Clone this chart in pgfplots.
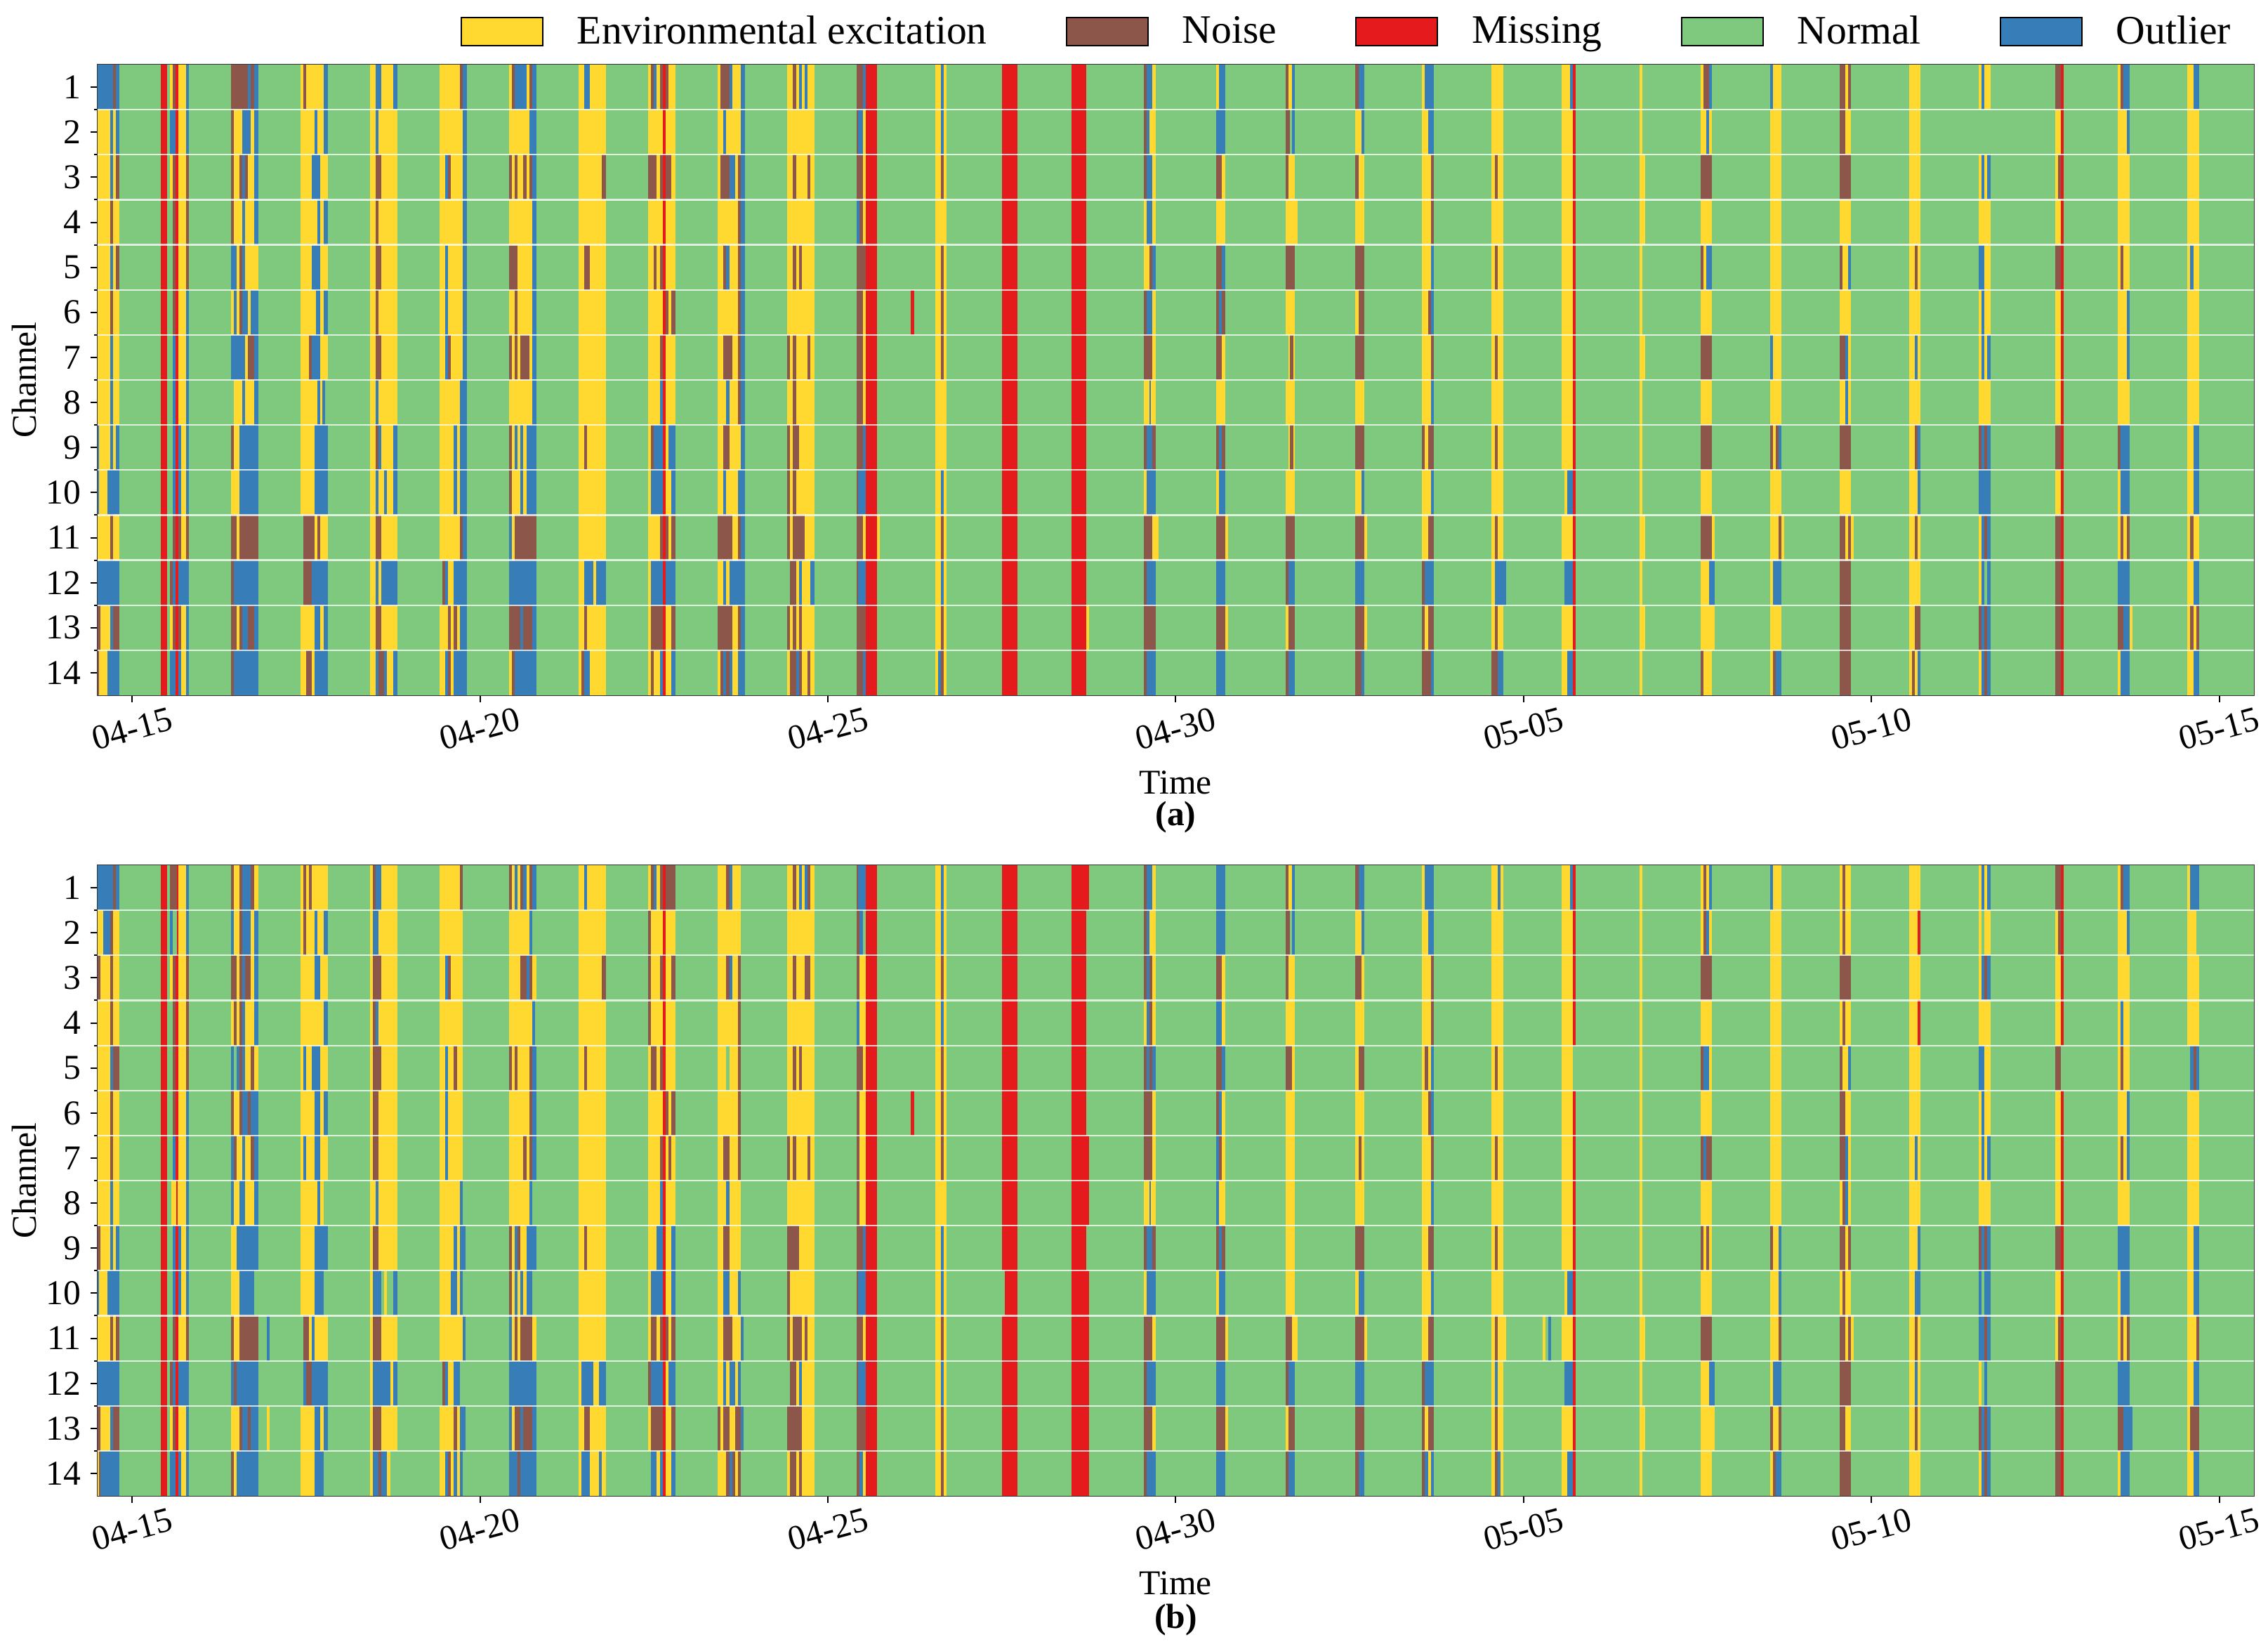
\documentclass[border=0pt]{standalone}
\usepackage{fontspec}
\setmainfont{Liberation Serif}
\usepackage{pgfplots}
\usepackage{pgfplotstable}
\pgfplotsset{compat=1.18}
\definecolor{cy}{HTML}{FFD92F}
\definecolor{cn}{HTML}{8C564B}
\definecolor{cm}{HTML}{E41A1C}
\definecolor{cg}{HTML}{7FC97F}
\definecolor{co}{HTML}{377EB8}
% one hour and one channel, in pt
\def\hu{1.03212pt}
\def\rh{16.036pt}
\pgfdeclareplotmark{seg}{%
  \pgfmathsetlengthmacro\segw{\seglen*\hu}%
  \pgfmathsetlengthmacro\segh{\segn*\rh}%
  \pgfpathrectangle{\pgfpoint{0pt}{0.5*\rh}}{\pgfpoint{\segw}{-\segh}}%
  \pgfusepathqfill}
% s = first hour after 04-14 12:00, c = first channel, l = hours, n = channels, k = class
\pgfplotstableread{
s c l n k
0 1 744 14 g
0 1 7.5 14 y
0 1 5.5 1 o
5.5 1 1 1 n
6.5 1 1 1 o
4.5 2 1 2 o
6.5 2 1 1 o
6.5 3 1 1 n
4.5 4 1 1 n
4.5 5 1 1 o
6.5 5 1 1 n
4.5 6 1 1 n
4.5 7 1 2 o
0 9 0.5 2 o
4.5 9 1 1 o
6.5 9 1 1 o
3.5 10 4 1 o
4.5 11 1 1 n
0 12 7.5 1 o
0 13 1 1 n
4.5 13 1 1 o
5.5 13 2 1 n
0 14 0.5 1 n
3.5 14 4 1 o
22 1 2 14 m
28 1 2.5 14 y
30.5 1 1 14 o
27 1 1 14 m
25 1 1 1 y
26 1 1 1 n
25 2 2 1 o
25 3 1 1 y
26 3 1 3 n
30.5 3 1 3 n
26 6 1 1 n
26 7 1 4 o
28 9 1 2 o
26 11 1 1 n
28 11 1 1 n
30.5 11 1 1 n
25 12 1 1 n
26 12 1 1 o
28 12 3.5 1 o
25 13 1 1 y
26 13 1 1 n
28 13 1 1 n
25 14 2 1 o
28 14 1 1 o
46 1 9.5 14 y
46 1 6 1 n
52 1 1 1 o
53 1 1 1 n
54 1 1.5 1 o
46 2 1 1 n
50 2 3 1 o
54 2 1.5 1 o
46 3 1 1 n
49 3 1 1 n
50 3 1 1 o
51 3 1 1 n
54 3 1.5 2 o
46 4 1 1 n
50 4 1 1 o
46 5 2 1 o
49 5 1 1 n
50 5 1 1 o
47 6 1 1 o
49 6 1 1 n
50 6 2 1 o
53 6 2.5 1 o
46 7 5 1 o
52 7 2 1 n
54 7 1.5 2 o
46 8 1 1 g
50 8 1 1 o
46 9 1 1 n
49 9 6.5 2 o
46 11 2 1 n
49 11 6.5 1 n
46 12 1 1 n
47 12 8.5 1 o
46 13 2 1 n
49 13 1 1 n
50 13 2 1 o
52 13 2 1 n
54 13 1.5 1 o
46 14 1 1 n
47 14 8.5 1 o
70 1 9.5 14 y
71 1 1 1 n
78 1 1.5 2 o
75 2 1 1 o
74 3 3 1 o
76 4 1 1 o
78 4 1.5 1 o
74 5 3 1 o
75.5 6 1.5 1 o
78 6 1.5 1 o
73 7 1 1 n
74 7 3 1 o
76 8 1 1 o
77.5 8 1 1 o
78.5 8 1 1 g
75 9 4.5 2 o
70 11 1 2 g
71 11 4 1 n
76 11 1 1 n
71 12 3 1 n
74 12 5.5 1 o
75 13 2 1 o
78 13 1.5 1 o
72 14 2 1 n
75 14 4.5 1 o
94 1 9.5 14 y
96 1 2 1 o
102 1 1.5 1 o
96 2 1 1 o
96 3 2 1 n
96 4 1 1 n
96 5 2 1 n
96 6 1 1 n
96 7 2 1 n
96 8 1 1 o
96 9 1 1 n
97 9 1 1 o
102 9 1.5 2 o
96 10 1 1 o
99 10 1 1 o
96 11 2 1 n
96 12 1 1 o
98 12 5.5 1 o
96 13 2 1 n
96 14 1 1 o
97 14 2 1 n
99 14 1 1 o
102 14 1.5 1 o
118 1 8 14 y
126 1 1.5 14 o
125 1 1 1 n
120 3 1 1 o
121 3 1 1 n
120 5 1 2 o
120 7 1 1 o
121 7 1 1 n
125 8 1 1 o
123 9 1 2 o
125 9 1 2 o
125 11 1 1 n
118 12 1 1 g
119 12 1 1 n
120 12 1 1 o
123 12 3 1 o
121 13 1 1 n
123 13 1 1 n
125 13 1 1 o
120 14 1 1 o
121 14 1 1 n
123 14 3 1 o
142 1 9.5 14 y
143 1 1 1 n
144 1 4 1 o
149 1 1 1 n
150 1 1.5 1 o
149 2 2.5 1 o
142 3 1 1 n
144 3 1 1 n
147 3 1 1 n
149 3 1 1 n
150 3 1.5 1 o
150 4 1.5 1 o
142 5 3 1 n
150 5 1.5 1 o
144 6 1 1 n
150 6 1.5 1 o
142 7 1 1 n
144 7 1 1 n
146 7 3 1 n
150 7 1.5 2 o
142 9 1 1 n
144 9 1 1 o
146 9 1 1 o
148 9 3.5 1 o
142 10 1 1 n
146 10 1 1 o
148 10 3.5 1 o
142 11 1 1 o
144 11 7.5 1 n
142 12 9.5 1 o
142 13 4 1 n
146 13 1 1 o
147 13 3 1 n
150 13 1.5 1 o
143 14 1 1 n
144 14 7.5 1 o
166 1 9.5 14 y
168 1 2 1 o
174 3 1.5 1 n
168 5 2 1 n
168 9 1 1 n
168 12 3 1 o
172 12 3.5 1 o
168 13 1 1 n
167 14 1 1 n
168 14 2 1 o
190 1 9.5 14 y
191 1 1 1 n
192 1 1 1 o
194 1 1 1 n
196 1 1 1 n
190 3 3 1 n
194 3 4 1 n
192 5 1 1 n
194 5 1 1 n
196 6 1 1 n
198 6 1.5 1 n
194 7 1 1 n
194 8 1 1 o
191 9 1 1 n
192 9 3 1 o
197 9 2.5 1 o
191 10 4 1 o
198 10 1.5 1 o
194 11 1 1 n
196 11 1 1 n
198 11 1.5 1 n
191 12 8.5 1 o
191 13 4 1 n
198 13 1.5 1 n
191 14 1 1 n
194 14 1 1 o
198 14 1.5 1 o
195 1 1 14 m
214 1 9.5 14 y
222 1 1.5 14 o
215 1 3 1 n
218 1 1 1 o
216 2 1 1 o
215 3 3 1 n
218 3 2 1 o
221 3 1 5 n
216 5 1 1 n
217 5 1 1 o
216 7 3 1 n
217 8 1 1 o
216 9 2 1 n
221 9 1 1 y
216 10 1 1 o
221 10 1 1 o
214 11 5 1 n
221 11 1 1 n
216 12 1 1 o
218 12 4 1 o
214 13 5 1 n
221 13 1 1 n
215 14 1 1 n
216 14 1 1 o
217 14 1 1 n
218 14 1 1 o
221 14 1 1 o
221 8 1 1 n
221 6 1 2 n
238 1 9.5 14 y
240 1 1 1 n
242 1 1 1 o
244 1 1 1 o
240 3 1 1 n
245 3 1 1 n
240 5 1 1 n
242 5 1 1 n
238 7 1 1 n
240 7 1 2 n
245 7 1 1 n
238 9 1 1 n
240 9 2 1 n
238 10 1 1 n
240 10 1 1 n
238 11 1 1 n
240 11 4 1 n
238 12 1 1 g
239 12 2 1 n
242 12 1 1 o
246 12 1.5 1 o
238 13 1 1 n
240 13 1 1 n
242 13 1 1 n
239 14 2 1 n
241 14 1 1 o
242 14 1 1 n
245 14 1 1 n
262 1 2 1 n
264 1 1 1 o
262 2 0.5 1 n
262.5 2 1.5 1 o
264 2 1 1 y
262 3 2 1 n
264 3 1 1 y
262 4 1 1 o
263 4 1 1 n
264 4 1 1 y
262 5 3 1 n
262 6 2 3 n
264 6 1 3 y
262 9 2 1 n
264 9 1 1 o
262 10 0.5 1 n
262.5 10 2.5 1 o
262 11 2 1 n
264 11 1 1 y
269 11 1 1 y
262 12 0.5 1 n
262.5 12 2.5 1 o
262 13 3 1 n
262 14 2 1 n
264 14 1 1 o
265 1 4 14 m
280.6 6 1.3 1 m
289 1 4 14 y
291 1 1 2 o
291 3 1 1 n
291 5 1 3 n
291 10 1 1 o
291 11 1 1 n
291 12 1 1 o
291 13 1 1 n
289 14 1 1 y
290 14 1 1 o
291 14 1 1 n
312 1 5.3 14 m
336 1 5.2 14 m
341.2 13 0.8 1 y
361 1 4 14 y
361 1 1 3 n
362 1 2 1 o
362 2 1 1 o
362 3 2 1 o
362 4 2 1 o
363 5 1 1 n
364 5 1 1 o
361 6 1 1 n
362 6 2 1 o
361 7 3 1 n
363 8 0.5 1 o
361 9 1 1 n
362 9 2 1 o
364 9 1 1 n
362 10 3 1 o
361 11 3 1 n
364 11 2 1 y
361 12 1 1 n
362 12 3 1 o
361 13 4 1 n
361 14 1 1 n
362 14 3 1 o
386 1 3 14 y
387 1 2 1 o
386 2 3 1 o
386 3 2 1 n
386 5 2 1 n
388 5 1 1 o
386 6 1 1 n
387 6 1 1 o
388 6 1 1 n
386 7 2 1 n
386 9 1 1 n
387 9 1 1 o
388 9 1 1 n
387 10 2 1 o
386 11 3 1 n
389 11 1 1 y
386 12 3 1 o
386 13 3 1 n
389 13 1 1 y
386 14 3 1 o
410 1 3 14 y
410 1 1 1 n
412 1 1 1 o
410 2 1.5 1 n
411.5 2 0.5 1 g
412 2 1 1 o
410 3 1 1 n
413 4 1 1 y
410 5 3 1 n
411.5 7 1 1 n
410 7 1 1 g
411.5 9 1 1 n
410 9 1 1 g
410 11 3 1 n
410 12 1 1 n
411 12 2 1 o
411 13 2 1 n
410 14 1 1 n
411 14 2 1 o
434 1 3 14 y
434 1 1 1 n
435 1 2 1 o
436 2 1 1 o
434 3 1 1 n
434 5 3 1 n
435 6 2 1 n
434 7 3 1 n
434 9 3 1 n
436 10 1 1 o
434 11 3 1 n
437 11 1 1 y
434 12 3 1 o
434 13 3 1 n
437 13 1 1 y
434 14 2 1 n
436 14 1 1 o
457 1 4 14 y
458 1 3 1 o
459 2 2 1 o
460 3 1 2 n
460 5 1 1 o
459 6 1 1 n
460 6 1 1 o
460 7 1 1 n
460 8 1 1 o
457 9 1 1 n
459 9 2 1 n
460 10 1 1 o
459 11 2 1 n
457 12 1 1 n
458 12 3 1 o
457 13 1 1 n
459 13 2 1 n
457 14 3 1 n
460 14 1 1 o
481 1 4 14 y
482 3 1 1 n
482 5 1 1 n
482 7 1 1 n
482 9 1 1 n
482 11 1 1 n
482 12 4 1 o
482 13 1 1 n
481 14 2 1 n
483 14 2 1 o
505 1 4 14 y
508 1 1 1 o
505 10 2 1 g
506 10 1 1 y
507 10 2 1 o
505 12 1 1 g
506 12 3 1 o
507 14 2 1 o
509 1 1 14 m
532 1 1 14 y
533 3 1 2 y
533 7 1 1 y
533 11 1 1 y
533 13 1 1 y
553 1 4 14 y
554 1 2 1 n
556 1 1 1 o
555 2 1 1 o
553 3 4 1 n
553 5 1 1 n
555 5 2 1 o
553 7 4 1 n
553 9 4 1 n
553 11 4 1 n
557 11 1 2 y
556 12 2 1 o
557 13 1 1 y
553 14 1 1 n
577 1 4 14 y
577 1 1 1 o
577 7 1 1 o
577 9 1 1 n
579 9 1 1 n
580 9 1 1 o
580 11 1 1 n
581 11 1 1 y
578 12 3 1 o
578 14 1 1 n
579 14 2 1 o
601 1 4 14 y
601 1 2 2 n
604 1 1 1 n
601 3 4 1 n
601 5 1 1 n
604 5 1 1 o
601 7 2 1 n
603 7 1 2 o
601 9 4 1 n
601 11 2 1 n
604 11 1 1 n
605 11 1 1 y
601 12 4 3 n
625 1 4 14 y
627 5 1 1 n
627 7 1 1 o
627 9 1 1 n
628 9 1 1 o
628 10 1 1 o
627 11 1 1 n
627 13 2 1 n
626 14 1 1 n
628 14 1 1 o
649 1 4 14 y
650 1 1 1 o
649 2 4 1 g
650 3 1 1 o
652 3 1 1 o
649 5 2 1 o
650 6 1 2 o
652 7 1 1 o
649 9 1 1 n
650 9 1 1 o
651 9 1 1 n
652 9 1 1 o
649 10 4 1 o
650 11 1 1 o
651 11 1 1 n
652 11 1 1 o
650 12 1 1 o
651 12 1 1 g
652 12 1 1 o
649 13 1 1 n
650 13 1 1 o
651 13 1 1 n
652 13 1 1 o
650 14 1 1 o
651 14 1 1 n
652 14 1 1 o
675.4 1 2 14 y
675.4 1 2 1 n
676.4 3 1 1 n
675.4 5 2 1 n
675.4 9 2 1 n
675.4 11 2 4 n
677.4 1 1 14 m
697 1 4 14 y
698 1 1 1 n
699 1 2 1 o
700 2 1 1 o
698 5 1 1 n
700 6 1 2 o
697 9 1 1 n
698 9 3 2 o
698 11 1 1 n
700 11 1 1 n
697 12 4 1 o
697 13 2 1 n
699 13 2 1 o
701 13 1 1 y
698 14 3 1 o
721 1 4 14 y
723 1 2 1 o
722 5 1 1 o
723 9 2 2 o
722 11 1 1 n
723 12 2 1 o
722 13 1 1 n
724 13 1 1 n
723 14 2 1 o
}\dataa
\pgfplotstableread{
s c l n k
0 1 744 14 g
0 1 7.5 14 y
0 1 5.5 1 o
5.5 1 1 1 n
6.5 1 1 1 o
2 2 2.5 1 o
4.5 2 1 1 n
0 3 1 1 n
4.5 3 1 2 n
4.5 5 1 1 o
5.5 5 2 1 n
4.5 6 1 2 n
4.5 8 1 1 o
0 9 1 1 n
4.5 9 1 1 o
6.5 9 1 1 o
0 10 0.5 1 o
3.5 10 4 1 o
4.5 11 1 1 n
6.5 11 1 1 n
0 12 7.5 1 o
0 13 1 1 n
4.5 13 1 1 o
5.5 13 2 1 n
0.5 14 0.5 1 n
1 14 6.5 1 o
22 1 2 14 m
28 1 2.5 14 y
30.5 1 1 14 o
25 1 2.5 1 n
27.5 1 0.5 1 m
25 2 1 1 o
27.5 2 0.5 1 m
25 3 1 1 y
26 3 1 4 n
27 3 1 10 m
30.5 3 1 3 n
26 7 1 1 o
25.5 8 2.5 1 y
27.3 8 0.4 1 m
26 9 1 2 o
28 9 1 2 o
26 11 1 1 n
30.5 11 1 1 n
25 12 1 1 n
26 12 1 1 o
27 12 1 1 m
28 12 3.5 1 o
25 13 1 1 y
26 13 1 1 n
27 13 1 1 m
25 14 2 1 o
27 14 1 1 m
28 14 1 1 o
46 1 9.5 14 y
46 1 1 1 n
49 1 1 1 n
50 1 3 1 o
53 1 1 1 n
46 2 1 1 o
49 2 1 1 n
50 2 3 1 o
54 2 1.5 1 o
46 3 2 1 n
49 3 1 1 n
50 3 1 1 o
51 3 2 1 n
54 3 1.5 1 o
46 4 1 1 y
47 4 1 1 n
49 4 1 1 n
50 4 1 1 o
54 4 1.5 1 o
46 5 1 1 o
47 5 1 1 g
48 5 1 1 o
49 5 1 1 n
50 5 1 1 o
53 5 1 1 n
46 6 1 1 n
49 6 1 1 n
50 6 2 1 o
52 6 1 1 n
53 6 2.5 1 o
46 7 1 1 o
47 7 1 1 n
50 7 1 1 o
53 7 1 1 n
54 7 1.5 2 o
46 8 1 1 o
49 8 2 1 o
48 9 7.5 1 o
49 10 5 1 o
54 10 1.5 1 g
46 11 1 1 n
49 11 6.5 1 n
58.5 11 1 1 o
46 12 1 1 o
47 12 1 1 n
48 12 7.5 1 o
49 13 1 1 n
50 13 2 1 o
52 13 1 1 n
53 13 2.5 1 o
58.5 13 1 1 y
46 14 1 1 n
48 14 7.5 1 o
70 1 9.5 14 y
71 1 1 2 n
73 1 1 1 n
75 2 1 1 o
78 2 1.5 1 o
75 3 2 1 o
78 4 1.5 1 o
71 5 1 1 o
74 5 3 1 o
75 6 2 1 o
78 6 1.5 1 o
71 7 1 1 o
75 7 2 1 o
76 8 1 1 o
78 8 1.5 1 g
75 9 4.5 1 o
75 10 3 1 o
78 10 1.5 1 g
70 11 1 2 g
71 11 2 1 n
74 11 1 1 o
71 12 1 1 o
72 12 2 1 n
74 12 5.5 1 o
75 13 2 1 o
78 13 1.5 1 o
75 14 3 1 o
78 14 1.5 1 g
94 1 9.5 14 y
95 1 1 1 n
96 1 2 1 o
95 2 2 1 o
95 3 3 1 n
95 4 1 1 n
96 4 1 1 o
95 5 3 1 n
95 6 2 2 n
96 8 1 1 o
95 9 2 1 n
95 10 3 1 o
98 10 1 1 g
100 10 2 1 g
102 10 1.5 1 o
95 11 3 1 n
95 12 6 1 o
102 12 1.5 1 o
95 13 3 1 n
95 14 2 1 o
97 14 1 1 n
98 14 2 1 o
101 14 2.5 1 g
118 1 8 14 y
125 1 1 1 n
120 3 1 1 o
121 3 1 1 n
120 5 1 1 o
123 5 1 1 n
120 6 1 2 o
125 8 1 1 o
123 9 1 1 o
125 9 2 1 o
122 10 2 1 o
125 10 1 1 o
126 11 1 1 o
118 12 1 1 g
119 12 1 1 n
120 12 1 1 o
123 12 2 1 o
125 12 1 1 g
123 13 1 1 n
125 13 2 1 o
120 14 1 1 o
121 14 1 1 n
123 14 1 1 o
125 14 1 1 o
142 1 9.5 14 y
142 1 1 1 n
144 1 1 1 o
146 1 1 1 n
147 1 1 1 o
149 1 1 1 n
150 1 1.5 1 o
149 2 1 1 o
150 2 1.5 1 g
146 3 2 1 n
148 3 1 1 o
149 3 1 1 n
150 4 1 1 o
151 4 0.5 1 g
142 5 1 1 n
144 5 1 1 n
149 5 1 1 n
150 5 1.5 1 o
149 6 1 1 n
150 6 1.5 1 o
147 7 1 1 n
149 7 1 1 n
150 7 1.5 1 o
149 8 1 1 o
150 8 1.5 1 g
142 9 1 1 n
144 9 1 1 o
145 9 1 1 n
148 9 3.5 1 o
142 10 1 1 n
144 10 1 1 o
146 10 1 1 o
148 10 2 1 o
150 10 1.5 1 g
142 11 1 1 o
144 11 1 1 n
146 11 4 1 n
142 12 9.5 1 o
142 13 1 1 o
144 13 2 1 n
146 13 1 1 o
147 13 3 1 n
150 13 1.5 1 o
142 14 3 1 o
145 14 1 1 n
146 14 5.5 1 o
166 1 9.5 14 y
168 1 1 1 o
174 3 1.5 1 n
168 5 1 1 n
168 9 1 1 n
167 12 4 1 o
173 12 2.5 1 o
168 13 2 1 n
167 14 3 1 o
173 14 1 1 o
190 1 9.5 14 y
191 1 1 1 n
192 1 1 1 o
194 1 1 1 n
196 1 3.5 1 n
190 2 1 3 n
194 3 1 1 n
198 3 1.5 1 n
191 5 2 1 n
194 5 1 1 n
196 6 1 1 n
198 6 1.5 1 n
194 7 1 1 n
197 7 1 1 n
194 8 1 1 o
193 9 2 1 o
198 9 1.5 2 o
191 10 4 1 o
191 11 2 1 n
194 11 3 1 n
198 11 1.5 1 n
190 12 1 1 n
191 12 4 1 o
197 12 2.5 1 o
191 13 4 1 n
198 13 1.5 1 n
190 14 1 1 g
191 14 2 1 o
194 14 1 1 o
198 14 1.5 1 o
195 1 1 14 m
214 1 8 14 y
217 1 1 1 n
218 1 1 1 o
217 3 1 1 n
218 3 1 1 o
221 3 1 1 n
221 4 1 4 n
217 5 1 1 g
217 8 1 1 o
216 7 2 1 n
216 9 2 1 n
216 10 2 1 o
221 10 1 1 o
216 11 3 1 n
222 11 1 1 o
216 12 1 1 o
218 12 2 1 o
221 12 1 1 o
214 13 1 1 n
216 13 2 1 n
220 13 2 1 n
222 13 1 1 o
217 14 1 1 n
218 14 1 1 o
219 14 1 1 n
221 14 1 1 n
238 1 9.5 14 y
240 1 1 1 n
242 1 1 1 o
244 1 1 1 o
245 1 1 1 n
240 3 1 1 n
244 3 2 1 n
240 5 1 1 n
242 5 1 1 n
238 7 1 1 n
240 7 1 1 n
245 7 1 1 n
238 9 4 1 n
238 10 1 1 n
238 11 1 1 n
240 11 3 1 n
244 11 1 1 n
238 12 1 1 g
239 12 2 1 n
242 12 1 1 o
238 13 5 1 n
239 14 2 1 n
242 14 1 1 n
262 1 0.5 1 n
262.5 1 2.5 1 o
262 2 1 1 n
263 2 1 1 o
262 3 1 1 n
263 3 2 1 y
262 4 1 1 o
263 4 2 1 y
262 5 2 1 n
264 5 1 1 y
262 6 1 3 n
263 6 2 3 y
262 9 2 1 n
264 9 1 1 o
262 10 0.5 1 n
262.5 10 2.5 1 o
262 11 2 1 n
264 11 1 1 y
262 12 0.5 1 n
262.5 12 2.5 1 o
262 13 3 1 n
262 14 1 1 n
263 14 1 1 o
264 14 1 1 y
265 1 4 14 m
280.6 6 1.3 1 m
289 1 4 14 y
291 1 1 2 o
291 3 1 1 n
291 4 1 1 o
291 5 1 3 n
291 9 1 2 o
291 11 1 1 n
291 12 1 1 o
291 13 1 2 n
312 1 5.3 9 m
313 10 4.3 1 m
312 11 5.3 4 m
336 1 6 14 m
341.2 2 0.8 5 g
341.2 9 0.8 1 g
361 1 4 14 y
361 1 1 3 n
362 1 2 1 o
362 2 1 1 o
362 3 1 1 o
363 3 1 1 n
362 4 1 1 o
363 4 1 1 n
361 5 1 1 n
362 5 1 1 o
363 5 1 1 n
364 5 1 1 o
361 6 3 2 n
363 8 0.5 1 o
361 9 1 1 n
362 9 2 1 o
364 9 1 1 n
362 10 3 1 o
361 11 3 1 n
361 12 1 1 n
362 12 3 1 o
361 13 3 1 n
361 14 1 1 n
362 14 3 1 o
386 1 3 14 y
386 1 3 2 o
386 3 2 1 n
386 4 2 1 o
386 5 2 1 n
388 5 1 1 o
386 6 1 1 n
387 6 1 1 o
386 7 1 1 o
387 7 1 1 n
386 8 1 1 o
386 9 1 1 n
387 9 1 1 o
388 9 1 1 n
387 10 2 1 o
386 11 3 1 n
389 11 1 1 y
386 12 3 1 o
386 13 3 1 n
389 13 1 1 y
386 14 3 1 o
410 1 3 14 y
410 1 1 1 n
412 1 1 1 o
410 2 1.5 1 n
411.5 2 0.5 1 g
412 2 1 1 o
410 3 1 1 n
410 5 2 1 n
410 11 2 1 n
413 11 1 1 y
410 12 1 1 n
411 12 2 1 o
411 13 2 1 n
410 14 1 1 n
411 14 2 1 o
434 1 3 14 y
434 1 1 1 n
435 1 2 1 o
436 2 1 1 o
434 3 2 1 n
435 5 2 1 n
435 7 1 1 n
434 9 3 1 n
435 10 2 1 o
434 11 3 1 n
437 11 1 1 y
434 12 3 1 o
434 13 3 1 n
434 14 1 1 n
435 14 2 1 o
457 1 4 14 y
458 1 3 1 o
459 2 2 1 o
460 3 1 2 n
458 5 1 1 n
460 5 1 1 o
459 6 1 1 n
460 6 1 1 o
460 7 1 1 n
460 8 1 1 o
459 9 2 1 n
460 10 1 1 o
459 11 2 1 n
457 12 1 1 n
458 12 3 1 o
457 13 1 1 n
459 13 2 1 n
457 14 1 1 n
458 14 1 1 o
460 14 1 1 o
481 1 4 14 y
483 1 1 1 o
482 5 1 1 n
482 7 1 1 n
482 9 1 1 n
482 11 1 1 n
485 11 1 1 y
482 12 1 1 o
482 13 1 1 n
482 14 1 1 n
483 14 1 1 o
498.6 11 1 1 y
500.6 11 1 1 o
505 1 4 14 y
508 1 1 1 o
505 10 1 1 g
507 10 2 1 o
505 12 1 1 g
506 12 3 1 o
507 14 2 1 o
509 1 1 4 m
509 6 1 9 m
532 1 1 14 y
533 11 1 1 y
533 13 1 1 y
553 1 4 14 y
554 1 1 2 n
556 1 1 1 o
555 2 1 1 o
553 3 4 1 n
553 5 1 1 n
554 5 2 1 o
553 7 1 1 n
554 7 1 1 o
555 7 2 1 n
553 9 1 1 n
555 9 1 1 n
553 11 4 1 n
556 12 2 1 o
557 13 1 1 y
577 1 4 14 y
577 1 1 1 o
577 9 1 1 n
580 9 1 2 o
580 11 1 1 n
578 12 3 1 o
577 13 1 1 n
580 13 1 1 n
578 14 1 1 n
579 14 2 1 o
601 1 4 14 y
602 1 1 2 n
601 3 4 1 n
602 4 1 1 n
601 5 1 1 n
604 5 1 1 o
601 6 2 2 n
603 7 1 1 o
602 8 1 1 n
603 8 1 1 o
601 9 2 1 n
604 9 1 1 n
602 10 1 1 n
601 11 2 1 n
604 11 1 1 n
605 11 1 1 y
601 12 4 1 n
601 13 2 1 n
601 14 4 1 n
625 1 4 14 y
628 2 1 1 m
628 4 1 1 m
627 7 1 1 o
628 9 1 1 o
627 10 2 1 o
627 11 1 1 n
627 12 1 1 o
627 13 1 1 n
649 1 4 14 y
650 1 1 1 o
652 1 1 1 o
650 2 1 1 g
650 3 1 1 o
651 3 1 1 n
652 3 1 1 o
649 5 2 1 o
650 6 1 2 o
652 7 1 1 o
649 9 1 1 n
650 9 1 1 o
651 9 1 1 n
652 9 1 1 o
649 10 1 1 o
650 10 1 1 g
651 10 2 1 o
649 11 2 1 o
651 11 1 1 n
652 11 1 1 o
650 12 1 1 g
651 12 1 1 o
652 12 1 1 g
649 13 1 1 n
650 13 1 1 o
651 13 1 1 n
652 13 1 1 o
650 14 1 1 o
651 14 1 1 n
652 14 1 1 o
675.4 1 2 14 y
675.4 1 2 1 n
676.4 2 1 1 n
675.4 5 2 1 n
675.4 9 2 1 n
676.4 11 1 1 n
675.4 12 2 3 n
677.4 1 1 4 m
677.4 6 1 9 m
697 1 4 14 y
698 1 1 1 n
699 1 2 1 o
700 2 1 1 o
698 4 1 1 o
698 5 1 1 n
700 6 1 1 o
698 7 1 1 n
700 7 1 1 o
697 9 4 1 o
698 10 3 1 o
698 11 1 1 n
700 11 1 1 n
697 12 4 1 o
697 13 2 1 n
699 13 3 1 o
698 14 3 1 o
721 1 4 14 y
722 1 3 1 o
724 2 1 1 g
721 5 1 1 g
722 5 1 1 o
723 5 1 1 n
724 5 1 1 o
723 9 2 2 o
724 11 1 1 n
723 12 2 1 o
722 13 3 1 n
723 14 2 1 o
}\datab
% white rules between the channels
\pgfplotstableread{
x y
0 1.5
744 1.5
nan nan
0 2.5
744 2.5
nan nan
0 3.5
744 3.5
nan nan
0 4.5
744 4.5
nan nan
0 5.5
744 5.5
nan nan
0 6.5
744 6.5
nan nan
0 7.5
744 7.5
nan nan
0 8.5
744 8.5
nan nan
0 9.5
744 9.5
nan nan
0 10.5
744 10.5
nan nan
0 11.5
744 11.5
nan nan
0 12.5
744 12.5
nan nan
0 13.5
744 13.5
}\rules
\pgfplotsset{
  box/.style={
    at={(0pt,#1)}, anchor=north west,
    scale only axis, width=767.9pt, height=224.5pt,
    xmin=0, xmax=744, ymin=0.5, ymax=14.5,
    y dir=reverse, unbounded coords=jump,
  },
  chan/.style={
    box=#1,
    xtick={12,132,252,372,492,612,732},
    xticklabels={04-15,04-20,04-25,04-30,05-05,05-10,05-15},
    ytick={1,...,14},
    minor ytick={1.5,2.5,...,13.5},
    axis on top,
    tick align=outside,
    xtick pos=left, ytick pos=left,
    xticklabel pos=left,
    major tick length=2.4pt, minor tick length=1.2pt,
    every tick/.style={black,line width=0.5pt},
    axis line style={line width=0.5pt,black!80},
    /pgf/number format/assume math mode=true,
    tick label style={font=\fontsize{12.4}{14}\selectfont},
    x tick label style={rotate=15,anchor=north,yshift=-1.5pt,xshift=-2.5pt},
    label style={font=\fontsize{12.4}{14}\selectfont},
    xlabel={Time}, ylabel={Channel},
    xlabel style={at={(0.5,-0.138)},anchor=center},
    ylabel style={at={(-0.0340,0.5)},anchor=center},
  },
  segs/.style={
    scatter, only marks, mark=seg, forget plot,
    scatter src=explicit symbolic,
    scatter/classes={g={color=cg},y={color=cy},n={color=cn},m={color=cm},o={color=co}},
    visualization depends on={\thisrow{l} \as \seglen},
    visualization depends on={\thisrow{n} \as \segn},
  },
  rule/.style={white,line width=0.55pt,opacity=0.75,no marks,forget plot},
}
\begin{document}
\begin{tikzpicture}
\path[use as bounding box] (-34.65pt,23pt) rectangle (772.85pt,-563.75pt);
\begin{axis}[chan=0pt, name=A,
    legend columns=5,
    legend style={draw=none,fill=none,at={(0.992,1.052)},anchor=east,
      font=\fontsize{14.4}{16}\selectfont,inner sep=0pt,
      /tikz/every even column/.append style={column sep=26pt},
      /tikz/every odd column/.append style={column sep=10pt}},
    legend cell align=left]
\addplot[segs] table[x=s,y=c,meta=k] {\dataa};
\addlegendimage{legend image code/.code={\draw[fill=cy,draw=black,line width=0.5pt] (0pt,-5pt) rectangle (29pt,5pt);}}
\addlegendentry{Environmental excitation}
\addlegendimage{legend image code/.code={\draw[fill=cn,draw=black,line width=0.5pt] (0pt,-5pt) rectangle (29pt,5pt);}}
\addlegendentry{Noise}
\addlegendimage{legend image code/.code={\draw[fill=cm,draw=black,line width=0.5pt] (0pt,-5pt) rectangle (29pt,5pt);}}
\addlegendentry{Missing}
\addlegendimage{legend image code/.code={\draw[fill=cg,draw=black,line width=0.5pt] (0pt,-5pt) rectangle (29pt,5pt);}}
\addlegendentry{Normal}
\addlegendimage{legend image code/.code={\draw[fill=co,draw=black,line width=0.5pt] (0pt,-5pt) rectangle (29pt,5pt);}}
\addlegendentry{Outlier}
\end{axis}
\begin{axis}[box=0pt, hide axis]
\addplot[rule] table[x=x,y=y] {\rules};
\end{axis}
\begin{axis}[chan=-285pt, name=B]
\addplot[segs] table[x=s,y=c,meta=k] {\datab};
\end{axis}
\begin{axis}[box=-285pt, hide axis]
\addplot[rule] table[x=x,y=y] {\rules};
\end{axis}
\node[font=\fontsize{12.4}{14}\selectfont\bfseries] at (383.95pt,-268pt) {(a)};
\node[font=\fontsize{12.4}{14}\selectfont\bfseries] at (383.95pt,-553.75pt) {(b)};
\end{tikzpicture}
\end{document}
